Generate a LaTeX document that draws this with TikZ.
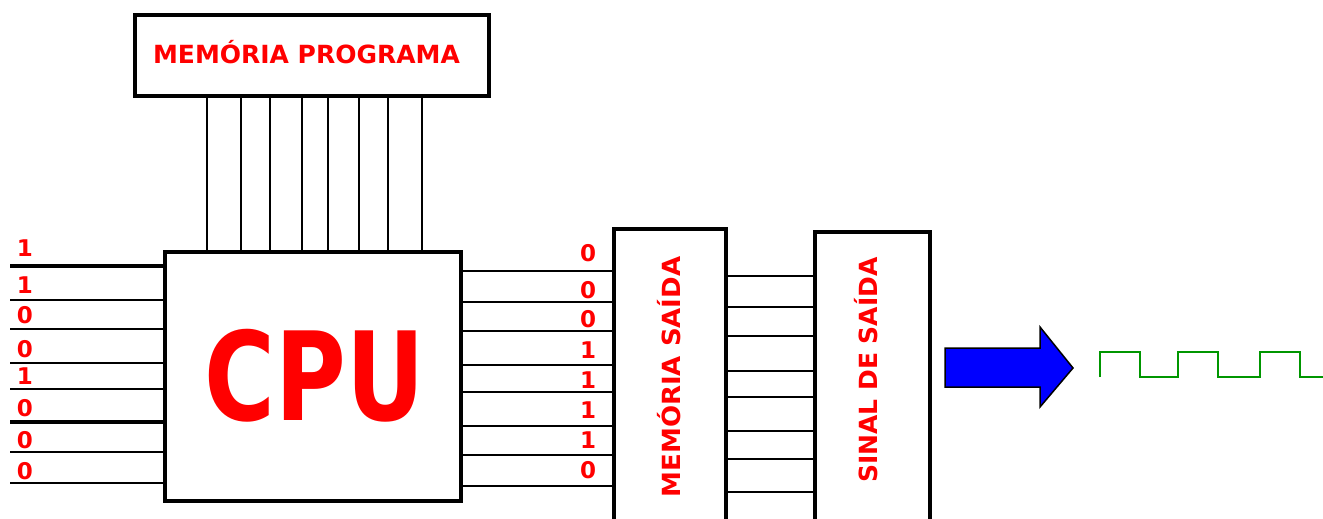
\documentclass[tikz,border=0pt]{standalone}
\usepackage{fontspec}
\setmainfont{DejaVu Sans}
\usetikzlibrary{calc}
\definecolor{sigred}{RGB}{255,0,0}
\definecolor{wavegreen}{RGB}{0,150,0}
\definecolor{arrowblue}{RGB}{0,0,255}

\begin{document}
\begin{tikzpicture}[x=1pt,y=-1pt,
  box/.style={draw=black, line width=4.5pt, inner sep=0pt, fill=white},
  wire/.style={line width=2.2pt},
  buswire/.style={line width=4.5pt},
  bit/.style={text=sigred, font=\fontsize{23}{23}\selectfont\bfseries, inner sep=0pt},
  boxlabel/.style={text=sigred, font=\fontsize{25}{25}\selectfont\bfseries, inner sep=0pt},
]
\useasboundingbox (0,0) rectangle (1323,519);
\clip (0,0) rectangle (1323,519);

% blocks
\node[box, minimum width=354pt, minimum height=81pt] (mp) at (312,55.5) {};
\node[box, minimum width=296pt, minimum height=249pt] (cpu) at (313,376.5) {};
\node[box, minimum width=112pt, minimum height=301pt] (ms) at (670,379.5) {};
\node[box, minimum width=115pt, minimum height=298pt] (ss) at (872.5,381) {};

% block titles
\node[boxlabel, anchor=base] (mptext) at (306.5,64) {MEMÓRIA PROGRAMA};
\node[text=sigred, font=\fontsize{123}{123}\selectfont\bfseries, inner sep=0pt, anchor=base] (cputext) at (315,420) {\scalebox{0.785}[1]{CPU}};
\node[boxlabel, anchor=base, rotate=90] (mstext) at (680,377) {\scalebox{1.04}[1]{MEMÓRIA SAÍDA}};
\node[boxlabel, anchor=base, rotate=90] (sstext) at (877,370) {SINAL DE SAÍDA};

% program memory bus
\foreach \x in {207,241,270,302,328,359,388,422}
  \draw[wire] (\x,0 |- mp.south) -- (\x,0 |- cpu.north);

% input lines with their bits
\foreach \y/\b/\ly/\w [count=\i] in {266/1/248/buswire, 300/1/285/wire, 328.7/0/315.5/wire, 362.7/0/349/wire,
    389.3/1/376/wire, 422/0/408.5/buswire, 451.7/0/440/wire, 483.3/0/471.5/wire} {
  \coordinate (in\i) at (10,\y);
  \draw[\w] (in\i) -- (in\i -| cpu.west);
  \node[bit] (inbit\i) at (25,\ly) {\b};
}

% CPU outputs to the output memory
\foreach \y/\b/\ly [count=\i] in {270.7/0/253.5, 301.7/0/290, 331/0/319, 365/1/350,
    392.3/1/380, 426/1/410, 455/1/440, 485.7/0/470} {
  \draw[wire] (cpu.east |- 0,\y) -- (ms.west |- 0,\y);
  \node[bit] (outbit\i) at (588,\ly) {\b};
}

% output memory to output signal
\foreach \y in {276,307.3,336,371,397.3,431,459.3,491.7}
  \draw[wire] (ms.east |- 0,\y) -- (ss.west |- 0,\y);

% output arrow
\draw[fill=arrowblue, draw=black, line width=1.5pt, line join=miter]
  (945,348) -- (1040,348) -- (1040,327) -- (1073,368) -- (1040,407) -- (1040,387) -- (945,387) -- cycle;

% square wave
\draw[wavegreen, line width=2pt]
  (1100,377) -- (1100,352) -- (1140,352) -- (1140,377) -- (1178,377) -- (1178,352) -- (1218,352)
  -- (1218,377) -- (1260,377) -- (1260,352) -- (1300,352) -- (1300,377) -- (1323,377);
\end{tikzpicture}
\end{document}
